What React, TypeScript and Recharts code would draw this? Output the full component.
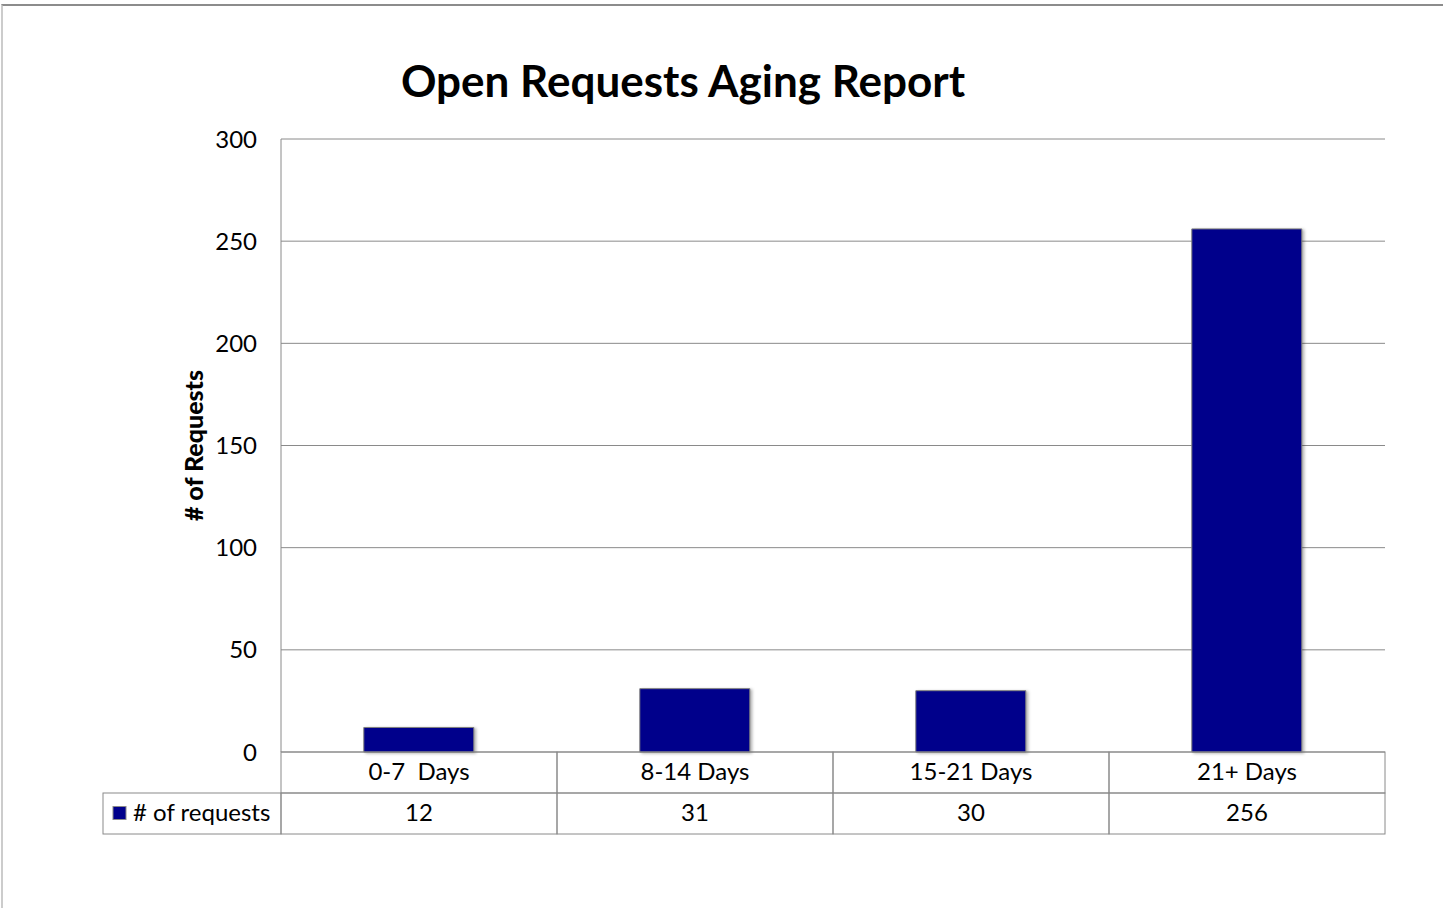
import React from 'react';
import { BarChart, Bar, XAxis, YAxis, CartesianGrid } from 'recharts';

// aging buckets and open request counts
const categories = ['0-7  Days', '8-14 Days', '15-21 Days', '21+ Days'];
const requests = [12, 31, 30, 256];
const yTicks = [0, 50, 100, 150, 200, 250, 300];

const seriesName = '# of requests';
const barColor = '#00008B';
const lineColor = '#8a8a8a';
const font = 'Lato, "Open Sans", sans-serif';

const data = categories.map((c, i) => ({ name: c, value: requests[i] }));

const CHART_W = 1443;
const CHART_H = 908;
const MARGIN = { top: 139, right: 58, bottom: 74, left: 221 };
const PLOT_W = CHART_W - MARGIN.left - MARGIN.right - 60;
const ROW_H = 41;
const LEGEND_W = 178;

// data table under the plot, drawn from the x axis ticks
const TableTick = (props: any) => {
    const { x, y, payload, index } = props;
    const cellW = PLOT_W / categories.length;
    const left = x - cellW / 2;
    return (
        <g>
            <rect x={left} y={y} width={cellW} height={ROW_H} fill="none" stroke={lineColor} strokeWidth={1} />
            <rect x={left} y={y + ROW_H} width={cellW} height={ROW_H} fill="none" stroke={lineColor} strokeWidth={1} />
            <text x={x} y={y + ROW_H / 2 - 2} textAnchor="middle" dominantBaseline="central" fontSize={24} fill="#000" fontFamily={font} style={{ whiteSpace: 'pre' }}>
                {payload.value}
            </text>
            <text x={x} y={y + ROW_H * 1.5 - 2} textAnchor="middle" dominantBaseline="central" fontSize={24} fill="#000" fontFamily={font}>
                {requests[index]}
            </text>
            {index === 0 && (
                <g>
                    <rect x={left - LEGEND_W} y={y + ROW_H} width={LEGEND_W} height={ROW_H} fill="none" stroke={lineColor} strokeWidth={1} />
                    <rect x={left - LEGEND_W + 10} y={y + ROW_H * 1.5 - 7} width={13} height={13} fill={barColor} stroke={lineColor} strokeWidth={1} />
                    <text x={left - LEGEND_W + 30} y={y + ROW_H * 1.5 - 2} dominantBaseline="central" fontSize={24} fill="#000" fontFamily={font}>
                        {seriesName}
                    </text>
                </g>
            )}
        </g>
    );
};

const YLabel = (props: any) => {
    const { viewBox } = props;
    const cx = viewBox.x - 28;
    const cy = viewBox.y + viewBox.height / 2;
    return (
        <text x={cx} y={cy} transform={`rotate(-90, ${cx}, ${cy})`} textAnchor="middle" dominantBaseline="central" fontSize={25} fontWeight={900} fill="#000" fontFamily={font}>
            # of Requests
        </text>
    );
};

export default function App() {
    return (
        <div style={{ position: 'fixed', left: 0, top: 0, width: CHART_W, height: CHART_H, background: '#fff', overflow: 'hidden' }}>
            <div style={{ position: 'absolute', left: 1, top: 4, width: CHART_W + 20, height: CHART_H + 20, borderTop: '2px solid #8c8c8c', borderLeft: '2px solid #cccccc' }} />
            <div style={{ position: 'absolute', left: 0, width: 1366, top: 54, textAlign: 'center', fontFamily: font, fontWeight: 'bold', fontSize: 44, color: '#000' }}>
                Open Requests Aging Report
            </div>
            <div style={{ position: 'absolute', left: 0, top: 0 }}>
                <BarChart width={CHART_W} height={CHART_H} data={data} margin={MARGIN} barCategoryGap="30%">
                    <CartesianGrid vertical={false} stroke={lineColor} strokeWidth={1} />
                    <XAxis
                        dataKey="name"
                        height={ROW_H * 2}
                        axisLine={false}
                        tickLine={false}
                        tickSize={0}
                        tickMargin={0}
                        interval={0}
                        tick={<TableTick />}
                    />
                    <YAxis
                        width={60}
                        domain={[0, 300]}
                        ticks={yTicks}
                        axisLine={{ stroke: lineColor, strokeWidth: 1 }}
                        tickLine={false}
                        tickSize={0}
                        tickMargin={24}
                        tick={{ fontSize: 24, fill: '#000', fontFamily: font }}
                        label={<YLabel />}
                    />
                    <Bar
                        dataKey="value"
                        fill={barColor}
                        stroke="#7f7f7f"
                        strokeWidth={1}
                        style={{ filter: 'drop-shadow(2px 1px 1.5px rgba(0,0,0,0.3))' }}
                        isAnimationActive={false}
                    />
                </BarChart>
            </div>
        </div>
    );
}
